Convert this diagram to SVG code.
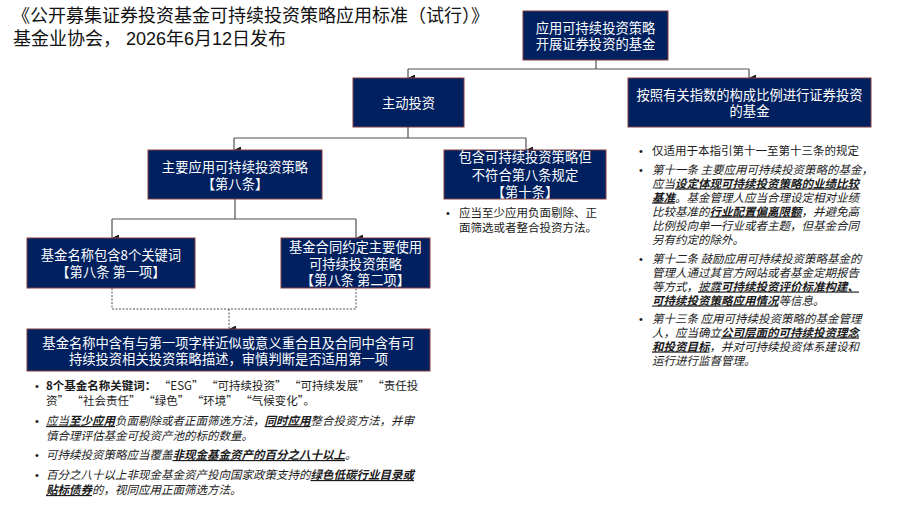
<svg xmlns="http://www.w3.org/2000/svg" width="907" height="506" viewBox="0 0 907 506">
<defs>
<marker id="arr" viewBox="0 0 8 8" refX="4" refY="8" markerWidth="7" markerHeight="7" markerUnits="userSpaceOnUse" orient="auto-start-reverse">
<path d="M0 0 L8 0 L4 8 Z" fill="#1a1a1a"/>
</marker>
<style>
.box{fill:#002060;stroke:#843C3C;stroke-width:1}
.bt{fill:#ffffff;font-family:"Noto Sans CJK SC","Liberation Sans",sans-serif;font-size:13.3px;text-anchor:middle}
.ln{fill:none;stroke:#505050;stroke-width:1.2}
.dl{fill:none;stroke:#505050;stroke-width:1;stroke-dasharray:2 1.5}
.tt{fill:#111;font-family:"Liberation Sans","Noto Sans CJK SC",sans-serif;font-size:18px}
.bl{fill:#1a1a1a;font-family:"Noto Sans CJK SC","Liberation Sans",sans-serif;font-size:11.5px}
.dot{fill:#1a1a1a;font-family:"Liberation Sans",sans-serif;font-size:11px}
.it{font-style:italic}
.u{text-decoration:underline}
.b{font-weight:bold}
</style>
</defs>
<rect width="907" height="506" fill="#ffffff"/>

<g id="title">
<text class="tt"><tspan x="12" y="22">《公开募集证券投资基金可持续投资策略应用标准（试行）》</tspan><tspan x="13" y="44.5">基金业协会， 2026年6月12日发布</tspan></text>
</g>

<g id="connectors">
<path class="ln" d="M596 60 V69 M408 69 H749"/>
<path class="ln" d="M408 69 V78" marker-end="url(#arr)"/>
<path class="ln" d="M749 69 V78" marker-end="url(#arr)"/>
<path class="ln" d="M408 127 V138 M234 138 H526"/>
<path class="ln" d="M234 138 V150" marker-end="url(#arr)"/>
<path class="ln" d="M526 138 V150" marker-end="url(#arr)"/>
<path class="ln" d="M235 199 V219 M112 219 H356"/>
<path class="ln" d="M112 219 V238" marker-end="url(#arr)"/>
<path class="ln" d="M356 219 V238" marker-end="url(#arr)"/>
<path class="dl" d="M112 288 V309 H356 V288"/>
<path class="dl" d="M229 309 V329" marker-end="url(#arr)"/>
</g>

<g id="n-root">
<rect class="box" x="523" y="11" width="145" height="49"/>
<text class="bt"><tspan x="595.5" y="33">应用可持续投资策略</tspan><tspan x="595.5" y="49">开展证券投资的基金</tspan></text>
</g>

<g id="n-active">
<rect class="box" x="353" y="78" width="111" height="49"/>
<text class="bt" x="408.5" y="107.5">主动投资</text>
</g>

<g id="n-index">
<rect class="box" x="628" y="78" width="243" height="49"/>
<text class="bt"><tspan x="749.5" y="100">按照有关指数的构成比例进行证券投资</tspan><tspan x="749.5" y="115.5">的基金</tspan></text>
</g>

<g id="n-art8">
<rect class="box" x="148" y="150" width="174" height="49"/>
<text class="bt"><tspan x="235" y="172">主要应用可持续投资策略</tspan><tspan x="235" y="188.5">【第八条】</tspan></text>
</g>

<g id="n-art10">
<rect class="box" x="444" y="150" width="162" height="49"/>
<text class="bt"><tspan x="525" y="162">包含可持续投资策略但</tspan><tspan x="525" y="179.5">不符合第八条规定</tspan><tspan x="525" y="197">【第十条】</tspan></text>
</g>

<g id="n-art10-note">
<text class="dot" x="446" y="217">•</text>
<text class="bl"><tspan x="459" y="217">应当至少应用负面剔除、正</tspan><tspan x="459" y="232">面筛选或者整合投资方法。</tspan></text>
</g>

<g id="n-item1">
<rect class="box" x="27" y="238" width="168" height="50"/>
<text class="bt"><tspan x="111" y="260">基金名称包含8个关键词</tspan><tspan x="111" y="277">【第八条 第一项】</tspan></text>
</g>

<g id="n-item2">
<rect class="box" x="281" y="238" width="149" height="50"/>
<text class="bt"><tspan x="355.5" y="252">基金合同约定主要使用</tspan><tspan x="355.5" y="268.5">可持续投资策略</tspan><tspan x="355.5" y="285">【第八条 第二项】</tspan></text>
</g>

<g id="n-judge">
<rect class="box" x="27" y="329" width="403" height="42"/>
<text class="bt"><tspan x="228.5" y="348">基金名称中含有与第一项字样近似或意义重合且及合同中含有可</tspan><tspan x="228.5" y="364">持续投资相关投资策略描述，审慎判断是否适用第一项</tspan></text>
</g>

<g id="n-left-notes">
<text class="dot" x="35" y="390">•</text>
<text class="bl"><tspan x="46" y="390"><tspan class="b">8个基金名称关键词：</tspan> “ESG” “可持续投资” “可持续发展” “责任投</tspan><tspan x="46" y="405">资” “社会责任” “绿色” “环境” “气候变化”。</tspan></text>
<text class="dot" x="35" y="425">•</text>
<text class="bl it"><tspan x="46" y="425"><tspan class="u">应当<tspan class="b">至少应用</tspan></tspan>负面剔除或者正面筛选方法，<tspan class="u b">同时应用</tspan>整合投资方法，并审</tspan><tspan x="46" y="440">慎合理评估基金可投资产池的标的数量。</tspan></text>
<text class="dot" x="35" y="459">•</text>
<text class="bl it" x="46" y="459">可持续投资策略应当覆盖<tspan class="u b">非现金基金资产的百分之八十以上</tspan>。</text>
<text class="dot" x="35" y="479">•</text>
<text class="bl it"><tspan x="46" y="479">百分之八十以上非现金基金资产投向国家政策支持的<tspan class="u b">绿色低碳行业目录或</tspan></tspan><tspan x="46" y="494"><tspan class="u b">贴标债券</tspan>的，视同应用正面筛选方法。</tspan></text>
</g>

<g id="n-right-notes">
<text class="dot" x="639" y="155">•</text>
<text class="bl" x="652" y="155">仅适用于本指引第十一至第十三条的规定</text>
<text class="dot" x="639" y="173.5">•</text>
<text class="bl it"><tspan x="652" y="173.5">第十一条 主要应用可持续投资策略的基金，</tspan><tspan x="652" y="187.5">应当<tspan class="u b">设定体现可持续投资策略的业绩比较</tspan></tspan><tspan x="652" y="201.5"><tspan class="u b">基准</tspan>。基金管理人应当合理设定相对业绩</tspan><tspan x="652" y="215.5">比较基准的<tspan class="u b">行业配置偏离限额</tspan>，并避免高</tspan><tspan x="652" y="229.5">比例投向单一行业或者主题，但基金合同</tspan><tspan x="652" y="243.5">另有约定的除外。</tspan></text>
<text class="dot" x="639" y="262.5">•</text>
<text class="bl it"><tspan x="652" y="262.5">第十二条 鼓励应用可持续投资策略基金的</tspan><tspan x="652" y="276.5">管理人通过其官方网站或者基金定期报告</tspan><tspan x="652" y="290.5">等方式，<tspan class="u">披露<tspan class="b">可持续投资评价标准构建、</tspan></tspan></tspan><tspan x="652" y="304.5"><tspan class="u b">可持续投资策略应用情况</tspan>等信息。</tspan></text>
<text class="dot" x="639" y="322.5">•</text>
<text class="bl it"><tspan x="652" y="322.5">第十三条 应用可持续投资策略的基金管理</tspan><tspan x="652" y="336.5">人，应当确立<tspan class="u b">公司层面的可持续投资理念</tspan></tspan><tspan x="652" y="350.5"><tspan class="u b">和投资目标</tspan>，并对可持续投资体系建设和</tspan><tspan x="652" y="364.5">运行进行监督管理。</tspan></text>
</g>
</svg>
